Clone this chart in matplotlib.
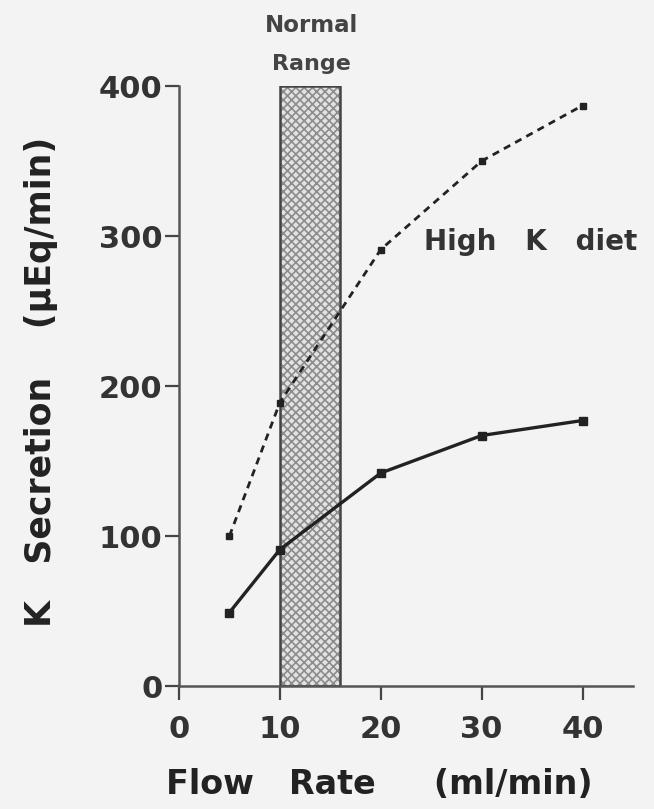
import matplotlib.pyplot as plt
from matplotlib.patches import Rectangle

# flow rate (ml/min) and K secretion (uEq/min)
flow = [5, 10, 20, 30, 40]
k_normal = [49, 91, 142, 167, 177]
k_high = [100, 189, 291, 350, 387]

normal_range = (10, 16)
xticks = [0, 10, 20, 30, 40]
yticks = [0, 100, 200, 300, 400]

plt.rcParams['font.family'] = ['DejaVu Sans']
plt.rcParams['font.weight'] = 'bold'
plt.rcParams['hatch.linewidth'] = 1.2
ink = '#222222'
bg = '#f3f3f3'

fig = plt.figure(figsize=(6.54, 8.09), dpi=100, facecolor=bg)
ax = fig.add_axes([179 / 654, 1 - 686 / 809, 454 / 654, 600 / 809], facecolor=bg)

#Normal range box: hatch first, then the outline on top
w = normal_range[1] - normal_range[0]
ax.add_patch(Rectangle((normal_range[0], 0), w, 400, facecolor='#e2e2e2',
                       edgecolor='#8c8c8c', hatch='xxxx', lw=0))
ax.add_patch(Rectangle((normal_range[0], 0), w, 400, facecolor='none',
                       edgecolor='#444444', lw=1.8))
ax.text(sum(normal_range) / 2 + 0.1, 440, "Normal", ha='center', va='center',
        fontsize=16.5, color='#444444', clip_on=False)
ax.text(sum(normal_range) / 2 + 0.1, 415, "Range", ha='center', va='center',
        fontsize=16, color='#444444', clip_on=False)

ax.plot(flow, k_high, color=ink, lw=2, ls=(0, (2.6, 2.0)), marker='s', ms=5)
ax.plot(flow, k_normal, color=ink, lw=2.4, marker='s', ms=5.5)
ax.text(24.3, 296, "High   K   diet", fontsize=20, color='#333333', va='center')

ax.set_xlim(0, 45)
ax.set_ylim(0, 400)
ax.set_xticks(xticks)
ax.set_yticks(yticks)
ax.tick_params(direction='out', length=10, width=1.6, labelsize=22, colors='#444444',
               labelcolor='#333333')
ax.tick_params(axis='x', pad=11)
ax.tick_params(axis='y', pad=2)
for s in ['top', 'right']:
    ax.spines[s].set_visible(False)
for s in ['left', 'bottom']:
    ax.spines[s].set_linewidth(1.8)
    ax.spines[s].set_color('#555555')

fig.text(379 / 654, 1 - 785 / 809, "Flow   Rate     (ml/min)", fontsize=24,
         color='#222222', ha='center', va='center')
fig.text(41 / 654, 1 - 382 / 809, "K   Secretion    (\u03bcEq/min)", fontsize=25,
         color='#222222', ha='center', va='center', rotation=90)

fig.savefig("out.png", dpi=100, facecolor=bg)
